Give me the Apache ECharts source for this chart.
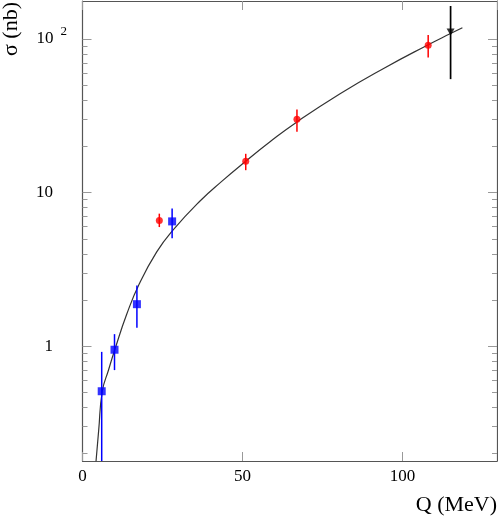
<!DOCTYPE html>
<html>
<head>
<meta charset="utf-8">
<script src="https://cdn.jsdelivr.net/npm/echarts@6/dist/echarts.min.js"></script>
<style>
html,body{margin:0;padding:0;background:#fff;}
#c{width:498px;height:517px;}
</style>
</head>
<body>
<div id="c"></div>
<script>
// ---- data ----
var blueQ = [6, 10, 17, 28];
var blueSigma = [0.51, 0.95, 1.88, 6.5];
var blueHigh = [0.92, 1.20, 2.49, 7.9];
var blueLow = [0.1, 0.70, 1.32, 5.04];

var redQ = [24, 51, 67, 108];
var redSigma = [6.6, 16.0, 30.0, 91];
var redHigh = [7.3, 17.9, 34.8, 106];
var redLow = [5.97, 14.0, 24.9, 75.9];

var blackQ = [115];
var blackSigma = [111];
var blackHigh = [164];
var blackLow = [54.8];

var curveQ = [4.22, 5.06, 6.19, 8.13, 10.06, 13.81, 17.75, 23.19, 28.13, 36.72, 43.59, 50.88, 58.59, 66.88, 80.47, 94.22, 107.88, 114.84, 118.69];
var curveSigma = [0.178, 0.285, 0.51, 0.701, 0.946, 1.615, 2.555, 4.114, 5.66, 8.82, 11.88, 15.94, 21.44, 28.76, 44.06, 64.57, 91.42, 108.1, 118.3];

var yMajorTicks = [1, 10, 100];
var yMinorTicks = [0.2, 0.3, 0.4, 0.5, 0.6, 0.7, 0.8, 0.9, 2, 3, 4, 5, 6, 7, 8, 9, 20, 30, 40, 50, 60, 70, 80, 90];
var xTickInterval = 50;

var xTitle = 'Q (MeV)';
var yTitle = 'σ (nb)';

// ---- chart ----
var FONT = 'Liberation Serif';
var X_MIN = 0, X_MAX = 129.5;
var Y_MIN = 0.1793, Y_MAX = 176.7;

function zip(a, b) { return a.map(function (v, i) { return [v, b[i]]; }); }
function zip3(a, b, c) { return a.map(function (v, i) { return [v, b[i], c[i]]; }); }

var axisLineStyle = { color: '#555', width: 1.2 };
var tickStyle = { color: '#999', width: 1 };

function xAx(pos, showLabel) {
  return {
    type: 'value', position: pos, min: X_MIN, max: X_MAX, interval: xTickInterval,
    axisLine: { show: true, onZero: false, lineStyle: axisLineStyle },
    axisTick: { show: true, inside: true, length: 9, lineStyle: tickStyle },
    axisLabel: { show: showLabel, margin: 7, fontSize: 17, color: '#000', fontFamily: FONT, showMaxLabel: false },
    splitLine: { show: false }
  };
}
function yAx(pos, major, showLabel) {
  var a = {
    type: 'log', logBase: 10, position: pos, min: Y_MIN, max: Y_MAX,
    axisLine: { show: major, onZero: false, lineStyle: axisLineStyle },
    axisTick: { show: true, inside: true, length: major ? 9 : 5, lineStyle: tickStyle,
      customValues: major ? yMajorTicks : yMinorTicks },
    axisLabel: { show: showLabel },
    splitLine: { show: false },
    minorTick: { show: false }
  };
  if (showLabel) {
    a.axisLabel = {
      show: true, margin: 15.5, customValues: yMajorTicks, color: '#000',
      formatter: function (v) {
        var r = Math.round(v);
        if (r === 100) return '{b|10}{s|2}';
        return '{n|' + r + '}';
      },
      rich: {
        b: { fontSize: 17, fontFamily: FONT, color: '#000', verticalAlign: 'middle' },
        s: { fontSize: 13, fontFamily: FONT, color: '#000', verticalAlign: 'bottom', padding: [0, 0, 14, 7] },
        n: { fontSize: 17, fontFamily: FONT, color: '#000', padding: [0, 14, 0, 0] }
      }
    };
  }
  return a;
}

function errBar(color, width) {
  return function (params, api) {
    var p1 = api.coord([api.value(0), api.value(1)]);
    var p2 = api.coord([api.value(0), api.value(2)]);
    return { type: 'line', shape: { x1: p1[0], y1: p1[1], x2: p2[0], y2: p2[1] },
      style: { stroke: color, lineWidth: width } };
  };
}

var chart = echarts.init(document.getElementById('c'), null, { renderer: 'canvas' });
chart.setOption({
  animation: false,
  backgroundColor: '#fff',
  grid: { left: 82.5, right: 1, top: 1, bottom: 56, containLabel: false },
  xAxis: [xAx('bottom', true), xAx('top', false)],
  yAxis: [yAx('left', true, true), yAx('left', false, false), yAx('right', true, false), yAx('right', false, false)],
  graphic: [
    { type: 'text', x: 497, y: 516, style: { text: xTitle, font: '22px "Liberation Serif"', fill: '#000', textAlign: 'right', textVerticalAlign: 'bottom' } },
    { type: 'text', x: 11, y: 29, rotation: Math.PI / 2, style: { text: yTitle, font: '22px "Liberation Serif"', fill: '#000', textAlign: 'center', textVerticalAlign: 'middle' } }
  ],
  series: [
    { type: 'line', data: zip(curveQ, curveSigma), showSymbol: false, smooth: 0.5,
      lineStyle: { color: '#333', width: 1.2 }, z: 2, silent: true },
    { type: 'custom', clip: true, data: zip3(blueQ, blueLow, blueHigh), renderItem: errBar('#0000ff', 1.5), encode: { x: 0, y: [1, 2] }, z: 3 },
    { type: 'custom', clip: true, data: zip3(redQ, redLow, redHigh), renderItem: errBar('#ff0000', 1.5), encode: { x: 0, y: [1, 2] }, z: 3 },
    { type: 'custom', clip: true, data: zip3(blackQ, blackLow, blackHigh), renderItem: errBar('#000000', 1.7), encode: { x: 0, y: [1, 2] }, z: 3 },
    { type: 'scatter', data: zip(blueQ, blueSigma), symbol: 'rect', symbolSize: 8, itemStyle: { color: '#0000ff' }, z: 4 },
    { type: 'scatter', data: zip(redQ, redSigma), symbol: 'circle', symbolSize: 7, itemStyle: { color: '#ff0000' }, z: 4 },
    { type: 'scatter', data: zip(blackQ, blackSigma), symbol: 'triangle', symbolRotate: 180, symbolSize: [8, 7], itemStyle: { color: '#000' }, z: 4 }
  ]
});
</script>
</body>
</html>
